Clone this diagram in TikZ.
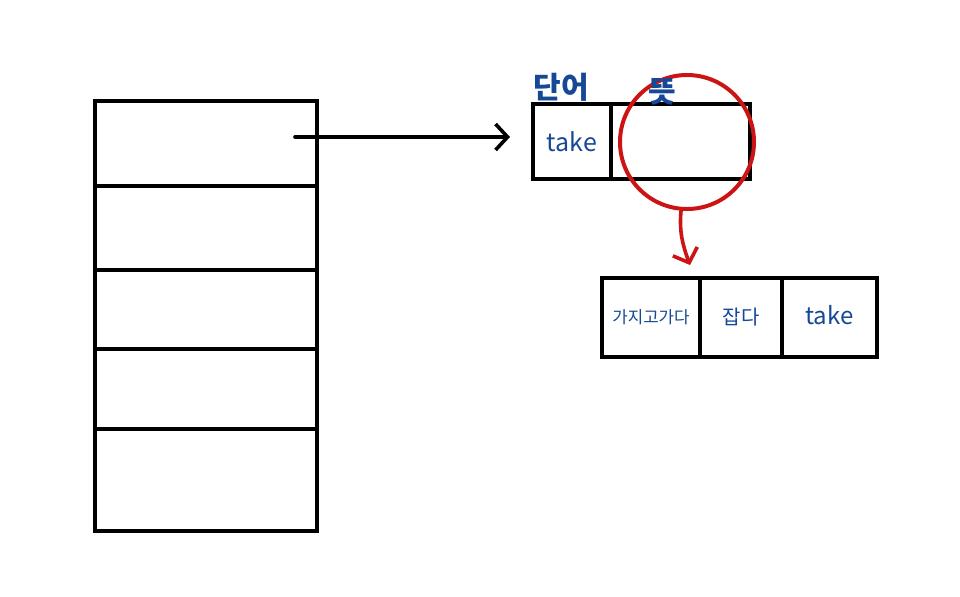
\documentclass[tikz,border=0pt]{standalone}
\usepackage{fontspec}
\usepackage{tikz}
\usetikzlibrary{positioning,arrows.meta}
\newfontfamily\kor{Noto Sans CJK KR}
\definecolor{inkblue}{RGB}{22,72,150}
\definecolor{inkred}{RGB}{205,20,20}

\tikzset{
  cellbox/.style={draw, line width=2.2pt, inner sep=0pt, outer sep=0pt, minimum width=111pt},
  inktext/.style={inkblue, font=\kor, inner sep=0pt},
  arrowline/.style={line width=1.8pt, line cap=round, -{Straight Barb[length=6pt,width=13pt,line width=1.8pt]}}
}

\begin{document}
\begin{tikzpicture}[x=0.5pt, y=-0.5pt]
      \useasboundingbox (0,0) rectangle (960,596);
      % left table
      \node[cellbox, minimum height=42.5pt, anchor=north west] (row1) at (95,101) {};
      \node[cellbox, minimum height=42pt, below=0pt of row1] (row2) {};
      \node[cellbox, minimum height=39.5pt, below=0pt of row2] (row3) {};
      \node[cellbox, minimum height=40pt, below=0pt of row3] (row4) {};
      \node[cellbox, minimum height=51pt, below=0pt of row4] (row5) {};
      % word / meaning entry
      \node[cellbox, minimum width=39pt, minimum height=37.5pt, anchor=north west] (word) at (533,104) {};
      \node[cellbox, minimum width=69.5pt, minimum height=37.5pt, right=0pt of word] (mean) {};
      \node[inktext, font=\kor\fontsize{12.5}{14}\selectfont] at (word.center) {take};
      % meaning list
      \node[cellbox, minimum width=49pt, minimum height=39.5pt, anchor=north west] (gaji) at (602,278) {};
      \node[cellbox, minimum width=41pt, minimum height=39.5pt, right=0pt of gaji] (grab) {};
      \node[cellbox, minimum width=47.5pt, minimum height=39.5pt, right=0pt of grab] (take) {};
      \node[inktext, font=\kor\fontsize{8.4}{9}\selectfont] at (gaji.center) {가지고가다};
      \node[inktext, font=\kor\fontsize{10}{12}\selectfont] at (grab.center) {잡다};
      \node[inktext, font=\kor\fontsize{12}{14}\selectfont] at ([yshift=1pt]take.center) {take};
      % pointer
      \coordinate (tail) at (295,137);
      \draw[arrowline, shorten >=11.5pt] (tail) -- (tail -| word.west);
      % highlight
      \node[draw=inkred, line width=2pt, circle, minimum size=67pt, inner sep=0pt] (ring) at (687,142) {};
      \draw[arrowline, inkred] ([xshift=-3pt]ring.south) to[out=-95, in=110] ([xshift=-5pt,yshift=6.5pt]gaji.north east);
      % headings
      \node[inktext, font=\kor\bfseries\fontsize{15}{17}\selectfont] (wordlbl) at (561,87) {단어};
      \node[inktext, font=\kor\bfseries\fontsize{15}{17}\selectfont] (meanlbl) at (662,92) {뜻};
\end{tikzpicture}
\end{document}
